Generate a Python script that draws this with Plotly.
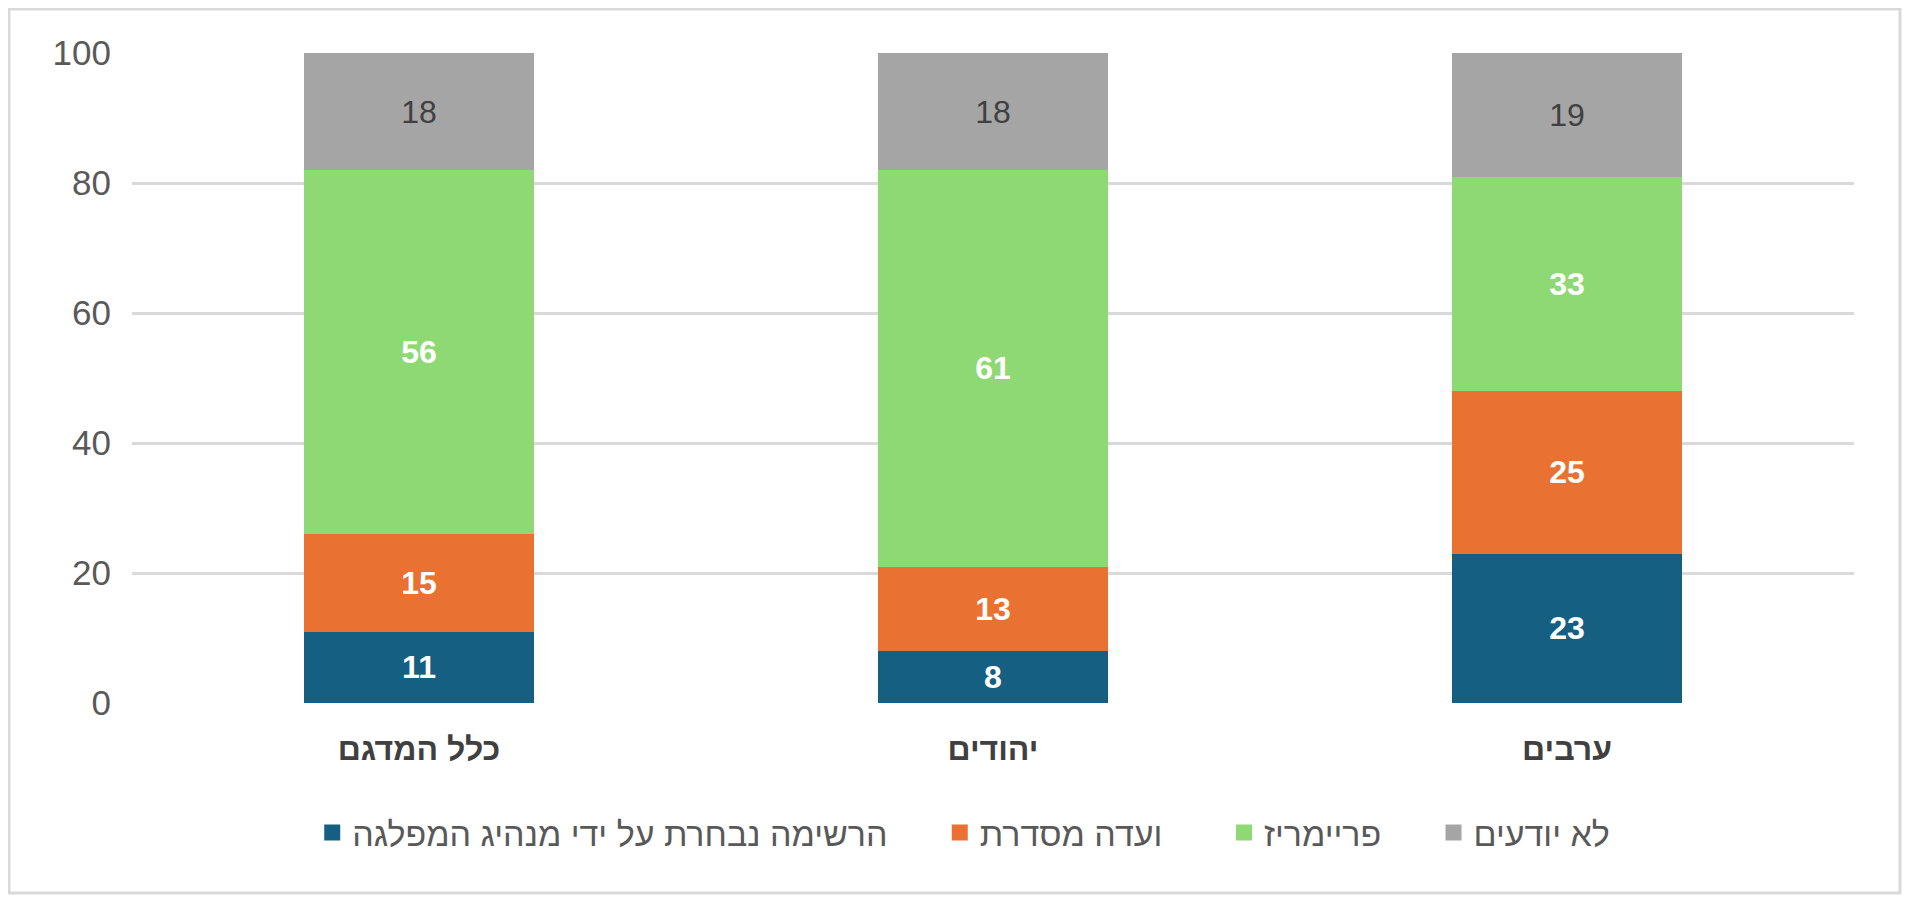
import plotly.graph_objects as go

groups = ["כלל המדגם", "יהודים", "ערבים"]
series_names = ["הרשימה נבחרת על ידי מנהיג המפלגה", "ועדה מסדרת", "פריימריז", "לא יודעים"]
leader = [11, 8, 23]
committee = [15, 13, 25]
primaries = [56, 61, 33]
dont_know = [18, 18, 19]
y_ticks = [0, 20, 40, 60, 80, 100]

colors = ["#156082", "#E97132", "#8ED973", "#A5A5A5"]
label_styles = [
    dict(color="white", bold=True),
    dict(color="white", bold=True),
    dict(color="white", bold=True),
    dict(color="#404040", bold=False),
]

font_family = "Liberation Sans, DejaVu Sans, sans-serif"
cats = ["<b>%s</b>" % g for g in groups]
legend_pad = [5, 6, 5, 0]  # non-breaking spaces after each legend name

fig = go.Figure()
for name, vals, col, st in zip(series_names, [leader, committee, primaries, dont_know], colors, label_styles):
    fig.add_trace(go.Bar(
        x=cats, y=vals, name=name, showlegend=False,
        marker=dict(color=col, line=dict(width=0)),
        text=[("<b>%d</b>" % v) if st["bold"] else str(v) for v in vals],
        textposition="inside", insidetextanchor="middle",
        textfont=dict(color=st["color"], size=32, family=font_family),
        hoverinfo="skip",
    ))

# legend-only markers so the swatches can be bigger squares
for name, col, p in zip(series_names, colors, legend_pad):
    fig.add_trace(go.Scatter(
        x=[None], y=[None], mode="markers", name=name + "\u00a0" * p,
        marker=dict(symbol="square", size=16, color=col), hoverinfo="skip",
    ))

# page body has an 8px margin, so the figure is shrunk to fit the window
fig.update_layout(
    barmode="stack",
    bargap=0.6,
    width=1895, height=887,
    margin=dict(l=124, r=49, t=45, b=192),
    plot_bgcolor="white", paper_bgcolor="white",
    font=dict(family=font_family, color="#595959"),
    showlegend=True,
    legend=dict(
        orientation="h", x=0.483, xanchor="center", y=-0.2, yanchor="middle",
        font=dict(size=34, color="#595959"), traceorder="normal",
    ),
    uniformtext=dict(minsize=24, mode="show"),
)
fig.update_yaxes(
    range=[0, 100], tickvals=y_ticks, showgrid=True, gridcolor="#D9D9D9", gridwidth=2.5,
    zeroline=False, showline=False, ticks="", ticklabelstandoff=20,
    tickfont=dict(size=35, color="#595959"),
)
fig.update_xaxes(
    showline=False, ticks="", ticklabelstandoff=24,
    tickfont=dict(size=32, color="#404040"),
)
fig.add_shape(
    type="rect", xref="paper", yref="paper",
    x0=-0.0714, x1=1.0267, y0=-0.2923, y1=1.0677,
    line=dict(color="#D9D9D9", width=3), fillcolor="rgba(0,0,0,0)", layer="below",
)

fig.write_html("out.html")
